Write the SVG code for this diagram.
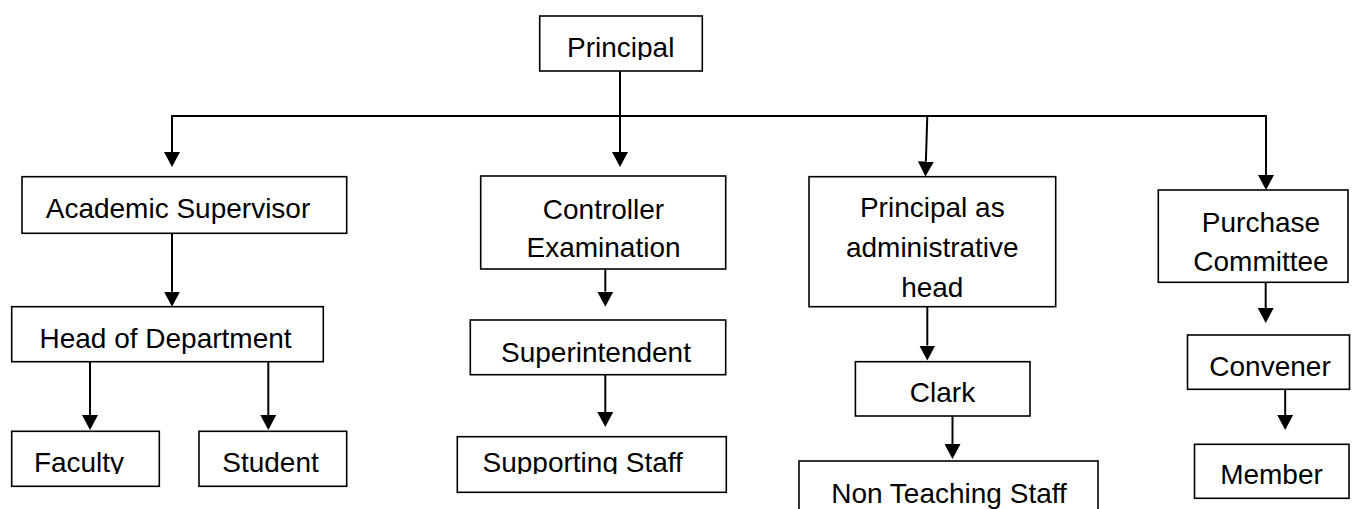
<svg xmlns="http://www.w3.org/2000/svg" width="1358" height="509" viewBox="0 0 1358 509">
<style>
.box{fill:#fff;stroke:#000;stroke-width:1.6}
.t{font-family:"Liberation Sans",Arial,sans-serif;font-size:28px;fill:#000;text-anchor:middle}
.c{fill:none;stroke:#000;stroke-width:2}
</style>
<defs>
<marker id="ah" markerUnits="userSpaceOnUse" markerWidth="15" markerHeight="16" refX="0" refY="8" orient="auto" viewBox="0 0 15 16">
<path d="M0,0 L15,8 L0,16 z" fill="#000"/>
</marker>
<clipPath id="cpP"><rect x="540" y="16" width="162" height="44"/></clipPath>
<clipPath id="cpF"><rect x="12" y="431" width="147" height="43"/></clipPath>
<clipPath id="cpS"><rect x="458" y="437" width="268" height="37"/></clipPath>
</defs>
<rect width="1358" height="509" fill="#fff"/>
<g id="connectors">
<line class="c" x1="620" y1="71" x2="620" y2="152" marker-end="url(#ah)"/>
<polyline class="c" points="172,152 172,116 1266,116 1266,175"/>
<line x1="1266" y1="174" x2="1266" y2="175" class="c" marker-end="url(#ah)"/>
<line class="c" x1="172" y1="151" x2="172" y2="152" marker-end="url(#ah)"/>
<line class="c" x1="927.3" y1="116" x2="925.9" y2="161.5" marker-end="url(#ah)"/>
<line class="c" x1="172" y1="233" x2="172" y2="291.7" marker-end="url(#ah)"/>
<line class="c" x1="90" y1="362" x2="90" y2="415" marker-end="url(#ah)"/>
<line class="c" x1="268.3" y1="362" x2="268.3" y2="415" marker-end="url(#ah)"/>
<line class="c" x1="605.3" y1="269" x2="605.3" y2="291.7" marker-end="url(#ah)"/>
<line class="c" x1="605.3" y1="372" x2="605.3" y2="412" marker-end="url(#ah)"/>
<line class="c" x1="927.3" y1="306.7" x2="927.3" y2="345.5" marker-end="url(#ah)"/>
<line class="c" x1="952.5" y1="416" x2="952.5" y2="444" marker-end="url(#ah)"/>
<line class="c" x1="1265.7" y1="282.3" x2="1265.7" y2="308" marker-end="url(#ah)"/>
<line class="c" x1="1285.2" y1="389.3" x2="1285.2" y2="415" marker-end="url(#ah)"/>
</g>
<g id="principal">
<rect class="box" x="539.7" y="16" width="162.6" height="55"/>
<text class="t" x="620.7" y="57" clip-path="url(#cpP)">Principal</text>
</g>
<g id="academic-supervisor">
<rect class="box" x="22" y="176.7" width="324.7" height="56.6"/>
<text class="t" x="178" y="217.7">Academic Supervisor</text>
</g>
<g id="head-of-department">
<rect class="box" x="11.7" y="306.7" width="311.6" height="55"/>
<text class="t" x="165.5" y="347.8">Head of Department</text>
</g>
<g id="faculty">
<rect class="box" x="11.7" y="431.3" width="147.6" height="55"/>
<text class="t" x="79" y="472.3" clip-path="url(#cpF)">Faculty</text>
</g>
<g id="student">
<rect class="box" x="199" y="431.3" width="147.7" height="55"/>
<text class="t" x="270.5" y="472.3">Student</text>
</g>
<g id="controller-examination">
<rect class="box" x="480.7" y="176" width="245" height="93"/>
<text class="t" x="603.5" y="219">Controller</text>
<text class="t" x="603.5" y="257.3">Examination</text>
</g>
<g id="superintendent">
<rect class="box" x="470.3" y="320" width="255.4" height="54.7"/>
<text class="t" x="596" y="361.7">Superintendent</text>
</g>
<g id="supporting-staff">
<rect class="box" x="457.3" y="436.7" width="269" height="55.6"/>
<text class="t" x="582.7" y="472.3" clip-path="url(#cpS)">Supporting Staff</text>
</g>
<g id="principal-admin-head">
<rect class="box" x="809" y="176.7" width="246.7" height="130"/>
<text class="t" x="932.3" y="216.7">Principal as</text>
<text class="t" x="932.3" y="257.3">administrative</text>
<text class="t" x="932.3" y="296.7">head</text>
</g>
<g id="clark">
<rect class="box" x="855.4" y="361.7" width="174.6" height="54.3"/>
<text class="t" x="942.5" y="401.7">Clark</text>
</g>
<g id="non-teaching-staff">
<rect class="box" x="799" y="461" width="299" height="60"/>
<text class="t" x="949" y="502.7">Non Teaching Staff</text>
</g>
<g id="purchase-committee">
<rect class="box" x="1158.3" y="190" width="189.7" height="92.3"/>
<text class="t" x="1261" y="232.3">Purchase</text>
<text class="t" x="1261" y="270.7">Committee</text>
</g>
<g id="convener">
<rect class="box" x="1187.5" y="335" width="162" height="54.3"/>
<text class="t" x="1270" y="376">Convener</text>
</g>
<g id="member">
<rect class="box" x="1194.5" y="444.3" width="154.5" height="54"/>
<text class="t" x="1271.5" y="484.3">Member</text>
</g>
</svg>
